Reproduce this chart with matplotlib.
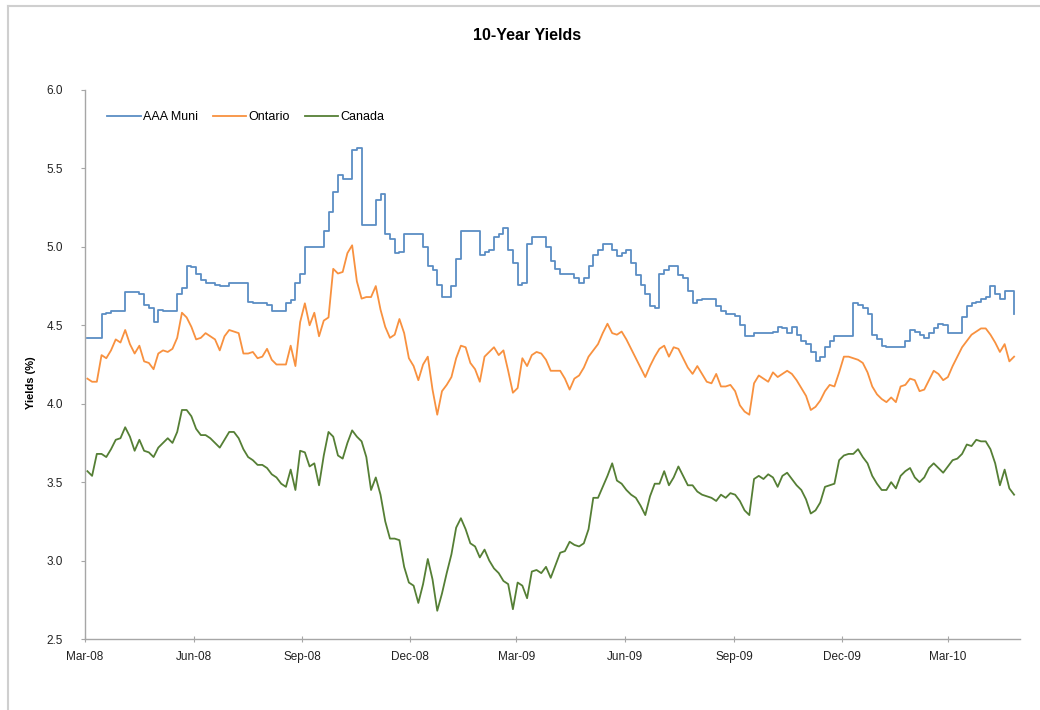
import matplotlib
matplotlib.use("Agg")
import matplotlib.pyplot as plt
import matplotlib.dates as mdates
from matplotlib.lines import Line2D
import pandas as pd

plt.rcParams['font.family'] = ['Liberation Sans', 'DejaVu Sans']

# observation dates: every 4 days from 3 Mar 2008
start_date = "2008-03-03"
n_points = 197
step = "4D"

aaa_muni = [
    4.42, 4.42, 4.42, 4.57, 4.58, 4.59, 4.59, 4.59, 4.71, 4.71,
    4.71, 4.70, 4.63, 4.61, 4.52, 4.60, 4.59, 4.59, 4.59, 4.70,
    4.74, 4.88, 4.87, 4.83, 4.79, 4.77, 4.77, 4.76, 4.75, 4.75,
    4.77, 4.77, 4.77, 4.77, 4.65, 4.64, 4.64, 4.64, 4.63, 4.59,
    4.59, 4.59, 4.64, 4.66, 4.77, 4.83, 5.00, 5.00, 5.00, 5.00,
    5.10, 5.22, 5.35, 5.46, 5.43, 5.43, 5.62, 5.63, 5.14, 5.14,
    5.14, 5.30, 5.34, 5.08, 5.05, 4.96, 4.97, 5.08, 5.08, 5.08,
    5.08, 5.00, 4.88, 4.85, 4.76, 4.68, 4.68, 4.75, 4.92, 5.10,
    5.10, 5.10, 5.10, 4.95, 4.97, 4.98, 5.06, 5.08, 5.12, 4.98,
    4.90, 4.76, 4.77, 5.02, 5.06, 5.06, 5.06, 5.00, 4.91, 4.86,
    4.83, 4.83, 4.83, 4.80, 4.77, 4.80, 4.88, 4.95, 4.98, 5.02,
    5.02, 4.98, 4.94, 4.96, 4.98, 4.90, 4.82, 4.76, 4.70, 4.62,
    4.61, 4.83, 4.85, 4.88, 4.88, 4.82, 4.80, 4.72, 4.64, 4.66,
    4.67, 4.67, 4.67, 4.62, 4.59, 4.57, 4.57, 4.56, 4.50, 4.43,
    4.43, 4.45, 4.45, 4.45, 4.45, 4.46, 4.49, 4.48, 4.45, 4.49,
    4.44, 4.40, 4.38, 4.33, 4.27, 4.30, 4.36, 4.40, 4.43, 4.43,
    4.43, 4.43, 4.64, 4.63, 4.61, 4.57, 4.44, 4.41, 4.37, 4.36,
    4.36, 4.36, 4.36, 4.40, 4.47, 4.46, 4.44, 4.42, 4.45, 4.48,
    4.51, 4.50, 4.45, 4.45, 4.45, 4.55, 4.62, 4.64, 4.65, 4.67,
    4.68, 4.75, 4.70, 4.67, 4.72, 4.72, 4.57,
]

ontario = [
    4.16, 4.14, 4.14, 4.31, 4.29, 4.34, 4.41, 4.39, 4.47, 4.38,
    4.32, 4.37, 4.27, 4.26, 4.22, 4.32, 4.34, 4.33, 4.35, 4.42,
    4.58, 4.55, 4.49, 4.41, 4.42, 4.45, 4.43, 4.41, 4.34, 4.43,
    4.47, 4.46, 4.45, 4.32, 4.32, 4.33, 4.29, 4.30, 4.35, 4.28,
    4.25, 4.25, 4.25, 4.37, 4.24, 4.52, 4.64, 4.50, 4.58, 4.43,
    4.53, 4.55, 4.86, 4.83, 4.84, 4.96, 5.01, 4.78, 4.67, 4.68,
    4.68, 4.75, 4.60, 4.49, 4.42, 4.44, 4.54, 4.45, 4.29, 4.24,
    4.15, 4.25, 4.30, 4.09, 3.93, 4.08, 4.12, 4.17, 4.29, 4.37,
    4.36, 4.26, 4.22, 4.14, 4.30, 4.33, 4.36, 4.31, 4.34, 4.21,
    4.07, 4.10, 4.29, 4.24, 4.31, 4.33, 4.32, 4.28, 4.21, 4.21,
    4.21, 4.16, 4.09, 4.16, 4.18, 4.23, 4.30, 4.34, 4.38, 4.45,
    4.51, 4.45, 4.44, 4.46, 4.41, 4.35, 4.29, 4.23, 4.17, 4.24,
    4.30, 4.35, 4.37, 4.30, 4.36, 4.35, 4.29, 4.23, 4.19, 4.24,
    4.19, 4.14, 4.13, 4.19, 4.11, 4.11, 4.12, 4.08, 3.99, 3.95,
    3.93, 4.13, 4.18, 4.16, 4.14, 4.20, 4.17, 4.19, 4.21, 4.19,
    4.15, 4.10, 4.05, 3.96, 3.98, 4.02, 4.08, 4.12, 4.11, 4.20,
    4.30, 4.30, 4.29, 4.28, 4.26, 4.20, 4.11, 4.06, 4.03, 4.01,
    4.04, 4.01, 4.11, 4.12, 4.16, 4.15, 4.08, 4.09, 4.15, 4.21,
    4.19, 4.15, 4.17, 4.24, 4.30, 4.36, 4.40, 4.44, 4.46, 4.48,
    4.48, 4.44, 4.39, 4.33, 4.38, 4.27, 4.30,
]

canada = [
    3.57, 3.54, 3.68, 3.68, 3.66, 3.71, 3.77, 3.78, 3.85, 3.79,
    3.70, 3.77, 3.70, 3.69, 3.66, 3.72, 3.75, 3.78, 3.75, 3.82,
    3.96, 3.96, 3.92, 3.84, 3.80, 3.80, 3.78, 3.75, 3.72, 3.77,
    3.82, 3.82, 3.78, 3.71, 3.66, 3.64, 3.61, 3.61, 3.59, 3.55,
    3.53, 3.49, 3.47, 3.58, 3.45, 3.70, 3.69, 3.60, 3.62, 3.48,
    3.67, 3.82, 3.79, 3.67, 3.65, 3.75, 3.83, 3.79, 3.76, 3.66,
    3.45, 3.53, 3.42, 3.25, 3.14, 3.14, 3.13, 2.96, 2.86, 2.84,
    2.73, 2.85, 3.01, 2.88, 2.68, 2.79, 2.92, 3.04, 3.21, 3.27,
    3.20, 3.11, 3.09, 3.02, 3.07, 3.00, 2.95, 2.92, 2.87, 2.85,
    2.69, 2.86, 2.84, 2.76, 2.93, 2.94, 2.92, 2.96, 2.89, 2.97,
    3.05, 3.06, 3.12, 3.10, 3.09, 3.11, 3.20, 3.40, 3.40, 3.47,
    3.54, 3.62, 3.51, 3.49, 3.45, 3.42, 3.40, 3.35, 3.29, 3.41,
    3.49, 3.49, 3.57, 3.48, 3.53, 3.60, 3.54, 3.48, 3.48, 3.44,
    3.42, 3.41, 3.40, 3.38, 3.42, 3.40, 3.43, 3.42, 3.38, 3.32,
    3.29, 3.52, 3.54, 3.52, 3.55, 3.53, 3.47, 3.54, 3.56, 3.52,
    3.48, 3.45, 3.39, 3.30, 3.32, 3.37, 3.47, 3.48, 3.49, 3.64,
    3.67, 3.68, 3.68, 3.71, 3.66, 3.62, 3.54, 3.49, 3.45, 3.45,
    3.50, 3.46, 3.54, 3.57, 3.59, 3.53, 3.50, 3.53, 3.59, 3.62,
    3.59, 3.56, 3.60, 3.64, 3.65, 3.68, 3.74, 3.73, 3.77, 3.76,
    3.76, 3.71, 3.62, 3.48, 3.58, 3.46, 3.42,
]

series_names = ["AAA Muni", "Ontario", "Canada"]
series_colors = ["#5b8dc4", "#f8913f", "#557f35"]
tick_dates = ["2008-03-01", "2008-06-01", "2008-09-01", "2008-12-01",
              "2009-03-01", "2009-06-01", "2009-09-01", "2009-12-01",
              "2010-03-01"]
y_ticks = [2.5, 3.0, 3.5, 4.0, 4.5, 5.0, 5.5, 6.0]

dates = pd.date_range(start_date, periods=n_points, freq=step)

fig = plt.figure(figsize=(10.4, 7.1), dpi=100)
ax = fig.add_axes([85 / 1040, 71 / 710, 935 / 1040, 549 / 710])

styles = ["steps-post", "default", "default"]
for vals, name, col, ds in zip([aaa_muni, ontario, canada], series_names,
                               series_colors, styles):
    ax.plot(dates, vals, color=col, lw=1.3, label=name, drawstyle=ds)

ax.set_xlim(pd.Timestamp("2008-03-01"), pd.Timestamp("2010-05-01"))
ax.set_ylim(2.5, 6.0)
ax.set_yticks(y_ticks)
ax.yaxis.set_major_formatter(matplotlib.ticker.FormatStrFormatter('%.1f'))
ax.set_xticks(pd.to_datetime(tick_dates))
ax.xaxis.set_major_formatter(mdates.DateFormatter('%b-%y'))

for s in ["top", "right"]:
    ax.spines[s].set_visible(False)
for s in ["left", "bottom"]:
    ax.spines[s].set_color("#a6a6a6")
    ax.spines[s].set_linewidth(1.0)
ax.tick_params(axis='x', direction='inout', length=5, color="#a6a6a6",
               labelsize=8.5, pad=6, labelcolor="#222222")
ax.tick_params(axis='y', direction='out', length=3, color="#a6a6a6",
               labelsize=8.5, pad=13, labelcolor="#222222")

fig.text(527 / 1040, 1 - 36 / 710, "10-Year Yields", ha='center',
         va='center', fontsize=11.5, fontweight='bold')
fig.text(31 / 1040, 1 - 383 / 710, "Yields (%)", rotation=90, ha='center',
         va='center', fontsize=8, fontweight='bold')

leg = ax.legend(loc='upper left', bbox_to_anchor=(107 / 1040, 1 - 111 / 710),
                bbox_transform=fig.transFigure, ncol=3, frameon=False,
                fontsize=9, handlelength=2.7, handletextpad=0.15,
                columnspacing=1.2, borderaxespad=0, borderpad=0)

# chart-area border (light gray, left and top)
fig.add_artist(Line2D([8 / 1040, 8 / 1040], [0, 1 - 6 / 710],
                      transform=fig.transFigure, color="#cfcfcf", lw=1.5))
fig.add_artist(Line2D([8 / 1040, 1], [1 - 6 / 710, 1 - 6 / 710],
                      transform=fig.transFigure, color="#cfcfcf", lw=1.5))

fig.savefig("out.png", dpi=100, facecolor="white")
